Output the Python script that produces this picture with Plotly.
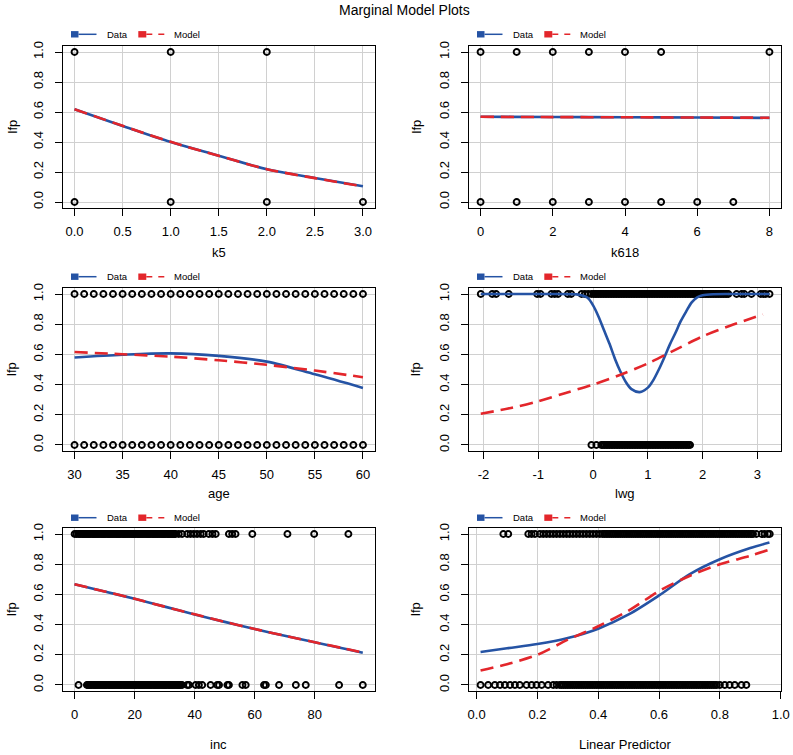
import plotly.graph_objects as go

W, H = 793, 755

# ---------------- data ----------------
k5_lfp1 = [0, 1, 2]
k5_lfp0 = [0, 1, 2, 3]
k5_curve_x = [0, 0.5, 1, 1.5, 2, 2.5, 3]
k5_data_y = [0.618, 0.507, 0.400, 0.309, 0.218, 0.160, 0.105]
k5_model_y = [0.618, 0.508, 0.401, 0.308, 0.219, 0.159, 0.104]

k618_lfp1 = [0, 1, 2, 3, 4, 5, 8]
k618_lfp0 = [0, 1, 2, 3, 4, 5, 6, 7]
k618_curve_x = [0, 2, 4, 6, 8]
k618_data_y = [0.568, 0.567, 0.565, 0.563, 0.561]
k618_model_y = [0.568, 0.566, 0.565, 0.563, 0.562]

age_lfp1 = [30, 31, 32, 33, 34, 35, 36, 37, 38, 39, 40, 41, 42, 43, 44, 45,
            46, 47, 48, 49, 50, 51, 52, 53, 54, 55, 56, 57, 58, 59, 60]
age_lfp0 = [30, 31, 32, 33, 34, 35, 36, 37, 38, 39, 40, 41, 42, 43, 44, 45,
            46, 47, 48, 49, 50, 51, 52, 53, 54, 55, 56, 57, 58, 59, 60]
age_curve_x = [30, 35, 40, 45, 50, 55, 60]
age_data_y = [0.580, 0.598, 0.607, 0.590, 0.552, 0.468, 0.378]
age_model_y = [0.616, 0.601, 0.585, 0.561, 0.531, 0.493, 0.449]

lwg_lfp1 = [-2.05, -1.84, -1.77, -1.54, -1.02, -0.96, -0.76, -0.70, -0.64, -0.46,
            -0.40, -0.21, -0.15, -0.09, -0.03, 0.01, 0.04, 0.07, 0.10, 0.13, 0.16, 0.19,
            0.22, 0.25, 0.28, 0.31, 0.34, 0.37, 0.40, 0.43, 0.46, 0.49, 0.52, 0.55, 0.58,
            0.61, 0.64, 0.67, 0.70, 0.73, 0.76, 0.79, 0.82, 0.85, 0.88, 0.91, 0.94, 0.97,
            1.00, 1.03, 1.06, 1.09, 1.12, 1.15, 1.18, 1.21, 1.24, 1.27, 1.30, 1.33, 1.36,
            1.39, 1.42, 1.45, 1.48, 1.51, 1.54, 1.57, 1.60, 1.63, 1.66, 1.69, 1.72, 1.75,
            1.78, 1.81, 1.84, 1.87, 1.90, 1.93, 1.96, 1.99, 2.02, 2.05, 2.08, 2.11, 2.14,
            2.17, 2.20, 2.23, 2.26, 2.29, 2.32, 2.35, 2.38, 2.41, 2.44, 2.47, 2.62, 2.71,
            2.76, 2.89, 3.06, 3.11, 3.15, 3.22]
lwg_lfp0 = [-0.03, 0.06, 0.15, 0.18, 0.21, 0.24, 0.27, 0.30, 0.33, 0.36, 0.39, 0.42, 0.45,
            0.48, 0.51, 0.54, 0.57, 0.60, 0.63, 0.66, 0.69, 0.72, 0.75, 0.78, 0.81, 0.84,
            0.87, 0.90, 0.93, 0.96, 0.99, 1.02, 1.05, 1.08, 1.11, 1.14, 1.17, 1.20, 1.23,
            1.26, 1.29, 1.32, 1.35, 1.38, 1.41, 1.44, 1.47, 1.50, 1.53, 1.56, 1.59, 1.62,
            1.65, 1.68, 1.71, 1.74, 1.77]
lwg_curve_x = [-2.05, -1.0, -0.3, -0.2, -0.1, 0.0, 0.1, 0.2, 0.3, 0.4, 0.5, 0.6, 0.7,
               0.85, 1.0, 1.1, 1.2, 1.3, 1.4, 1.5, 1.6, 1.7, 1.8, 1.9, 2.0, 2.2, 2.6, 3.22]
lwg_data_y = [1.0, 1.0, 0.998, 0.99, 0.975, 0.925, 0.85, 0.76, 0.67, 0.57, 0.485, 0.415,
              0.37, 0.35, 0.38, 0.43, 0.50, 0.58, 0.665, 0.74, 0.82, 0.885, 0.945, 0.978,
              0.992, 0.999, 1.0, 1.0]
lwg_model_x = [-2.05, -1.5, -1.0, -0.5, 0.0, 0.5, 1.0, 1.5, 2.0, 2.5, 3.1]
lwg_model_y = [0.207, 0.245, 0.290, 0.345, 0.400, 0.465, 0.540, 0.630, 0.720, 0.790, 0.865]

inc_lfp1 = [0.0, 0.6, 1.2, 1.7, 2.1, 2.6, 3.0, 3.4, 3.8, 4.2, 4.6, 5.0, 5.4, 5.9, 6.3,
            6.7, 7.1, 7.5, 7.9, 8.4, 8.8, 9.2, 9.6, 10.0, 10.4, 10.9, 11.3, 11.7, 12.1,
            12.5, 12.9, 13.4, 13.8, 14.2, 14.6, 15.0, 15.4, 15.9, 16.3, 16.7, 17.1, 17.5,
            17.9, 18.4, 18.8, 19.2, 19.6, 20.0, 20.4, 20.9, 21.3, 21.7, 22.1, 22.5, 22.9,
            23.4, 23.8, 24.2, 24.6, 25.0, 25.4, 25.9, 26.3, 26.7, 27.1, 27.5, 27.9, 28.4,
            28.8, 29.2, 29.6, 30.0, 30.4, 30.9, 31.3, 31.7, 32.1, 32.5, 32.9, 33.3, 33.6,
            34.7, 35.8, 37.5, 38.6, 39.7, 40.8, 42.0, 43.0, 44.7, 45.9, 47.0, 51.4, 52.5,
            53.6, 59.2, 70.9, 79.8, 91.2]
inc_lfp0 = [1.3, 4.1, 4.5, 4.9, 5.3, 5.7, 6.2, 6.6, 7.0, 7.4, 7.8, 8.2, 8.7, 9.1, 9.5,
            9.9, 10.3, 10.7, 11.2, 11.6, 12.0, 12.4, 12.8, 13.2, 13.7, 14.1, 14.5, 14.9,
            15.3, 15.7, 16.2, 16.6, 17.0, 17.4, 17.8, 18.2, 18.7, 19.1, 19.5, 19.9, 20.3,
            20.7, 21.2, 21.6, 22.0, 22.4, 22.8, 23.2, 23.7, 24.1, 24.5, 24.9, 25.3, 25.7,
            26.2, 26.6, 27.0, 27.4, 27.8, 28.2, 28.7, 29.1, 29.5, 29.9, 30.3, 30.7, 31.2,
            31.6, 32.0, 32.4, 32.8, 33.2, 33.7, 34.1, 34.5, 34.9, 35.3, 35.8, 37.5, 38.1,
            40.3, 41.4, 42.5, 45.3, 47.5, 48.1, 50.9, 51.4, 55.9, 57.0, 63.1, 63.7, 68.1,
            73.7, 77.0, 88.1, 96.0]
inc_curve_x = [-0.03, 10, 20, 30, 40, 50, 60, 70, 80, 90, 96]
inc_data_y = [0.667, 0.619, 0.571, 0.519, 0.467, 0.418, 0.371, 0.326, 0.283, 0.240, 0.214]
inc_model_y = [0.667, 0.620, 0.571, 0.519, 0.468, 0.418, 0.371, 0.326, 0.283, 0.241, 0.214]

fit_lfp1 = [0.088, 0.104, 0.170, 0.181, 0.192, 0.208, 0.219, 0.230, 0.241, 0.252, 0.263,
            0.274, 0.285, 0.296, 0.306, 0.317, 0.328, 0.339, 0.350, 0.361, 0.372, 0.383,
            0.394, 0.405, 0.414, 0.420, 0.426, 0.432, 0.438, 0.444, 0.450, 0.456, 0.462,
            0.468, 0.474, 0.480, 0.486, 0.492, 0.498, 0.504, 0.510, 0.516, 0.522, 0.528,
            0.534, 0.540, 0.546, 0.552, 0.558, 0.564, 0.570, 0.576, 0.582, 0.588, 0.594,
            0.600, 0.606, 0.612, 0.618, 0.624, 0.630, 0.636, 0.642, 0.648, 0.654, 0.660,
            0.666, 0.672, 0.678, 0.684, 0.690, 0.696, 0.702, 0.708, 0.714, 0.720, 0.726,
            0.732, 0.738, 0.744, 0.750, 0.756, 0.762, 0.768, 0.774, 0.780, 0.786, 0.792,
            0.798, 0.804, 0.810, 0.816, 0.822, 0.828, 0.834, 0.840, 0.846, 0.852, 0.858,
            0.864, 0.870, 0.876, 0.882, 0.888, 0.894, 0.900, 0.905, 0.909, 0.920, 0.937,
            0.947, 0.958, 0.964]
fit_lfp0 = [0.013, 0.038, 0.060, 0.077, 0.093, 0.110, 0.126, 0.142, 0.164, 0.181, 0.197,
            0.214, 0.235, 0.252, 0.263, 0.274, 0.280, 0.286, 0.292, 0.298, 0.304, 0.310,
            0.316, 0.322, 0.328, 0.334, 0.340, 0.346, 0.352, 0.358, 0.364, 0.370, 0.376,
            0.382, 0.388, 0.394, 0.400, 0.406, 0.412, 0.418, 0.424, 0.430, 0.436, 0.442,
            0.448, 0.454, 0.460, 0.466, 0.472, 0.478, 0.484, 0.490, 0.496, 0.502, 0.508,
            0.514, 0.520, 0.526, 0.532, 0.538, 0.544, 0.550, 0.556, 0.562, 0.568, 0.574,
            0.580, 0.586, 0.592, 0.598, 0.604, 0.610, 0.616, 0.622, 0.628, 0.634, 0.640,
            0.646, 0.652, 0.658, 0.664, 0.670, 0.676, 0.682, 0.688, 0.694, 0.700, 0.706,
            0.712, 0.718, 0.724, 0.730, 0.736, 0.742, 0.748, 0.754, 0.760, 0.766, 0.772,
            0.778, 0.784, 0.790, 0.800, 0.816, 0.832, 0.849, 0.871, 0.887]
fit_curve_x = [0.013, 0.1, 0.2, 0.3, 0.4, 0.5, 0.6, 0.7, 0.8, 0.9, 0.963]
fit_data_y = [0.218, 0.243, 0.271, 0.311, 0.373, 0.467, 0.593, 0.733, 0.833, 0.907, 0.944]
fit_model_y = [0.096, 0.138, 0.200, 0.300, 0.389, 0.493, 0.622, 0.722, 0.800, 0.856, 0.896]

y_ticks = [0, 0.2, 0.4, 0.6, 0.8, 1.0]
y_ticktext = ["0.0", "0.2", "0.4", "0.6", "0.8", "1.0"]

panels = [
    dict(xlab="k5", p1=k5_lfp1, p0=k5_lfp0, dx=k5_curve_x, dy=k5_data_y, mx=k5_curve_x, my=k5_model_y,
         xr=[-0.12, 3.12], xt=[0, 0.5, 1, 1.5, 2, 2.5, 3],
         xtt=["0.0", "0.5", "1.0", "1.5", "2.0", "2.5", "3.0"]),
    dict(xlab="k618", p1=k618_lfp1, p0=k618_lfp0, dx=k618_curve_x, dy=k618_data_y, mx=k618_curve_x, my=k618_model_y,
         xr=[-0.32, 8.32], xt=[0, 2, 4, 6, 8], xtt=["0", "2", "4", "6", "8"]),
    dict(xlab="age", p1=age_lfp1, p0=age_lfp0, dx=age_curve_x, dy=age_data_y, mx=age_curve_x, my=age_model_y,
         xr=[28.8, 61.2], xt=[30, 35, 40, 45, 50, 55, 60], xtt=["30", "35", "40", "45", "50", "55", "60"]),
    dict(xlab="lwg", p1=lwg_lfp1, p0=lwg_lfp0, dx=lwg_curve_x, dy=lwg_data_y, mx=lwg_model_x, my=lwg_model_y,
         xr=[-2.265, 3.43], xt=[-2, -1, 0, 1, 2, 3], xtt=["-2", "-1", "0", "1", "2", "3"]),
    dict(xlab="inc", p1=inc_lfp1, p0=inc_lfp0, dx=inc_curve_x, dy=inc_data_y, mx=inc_curve_x, my=inc_model_y,
         xr=[-3.87, 99.9], xt=[0, 20, 40, 60, 80], xtt=["0", "20", "40", "60", "80"]),
    dict(xlab="Linear Predictor", p1=fit_lfp1, p0=fit_lfp0, dx=fit_curve_x, dy=fit_data_y, mx=fit_curve_x, my=fit_model_y,
         xr=[-0.025, 1.001], xt=[0, 0.2, 0.4, 0.6, 0.8, 1.0],
         xtt=["0.0", "0.2", "0.4", "0.6", "0.8", "1.0"]),
]

# ---------------- layout geometry (pixels) ----------------
col_x = [(63, 374.5), (469, 781)]
row_y = [(46, 208), (288, 451), (528, 691)]
xlab_y = [252, 493, 744]
legend_y = [34.3, 276.7, 517.7]
ylab_x = [11.5, 415.5]

BLUE = "#2553a4"
RED = "#e3262b"
FONT = "Liberation Sans, Arial, sans-serif"


def px(x):
    return x / W


def py(y):
    return 1 - y / H


fig = go.Figure()
layout = dict(
    width=W, height=H, margin=dict(l=0, r=0, t=0, b=0),
    paper_bgcolor="white", plot_bgcolor="white", showlegend=False,
    font=dict(family=FONT, size=13, color="black"),
)
annotations = []
shapes = []
marker_style = dict(symbol="circle-open", size=6.0, color="black", line=dict(width=1.9, color="black"))

for i, p in enumerate(panels):
    r, c = divmod(i, 2)
    n = i + 1
    xa, ya = f"x{n}", f"y{n}"
    fig.add_trace(go.Scatter(x=p["p1"], y=[1] * len(p["p1"]), mode="markers", xaxis=xa, yaxis=ya,
                             marker=marker_style, hoverinfo="skip"))
    fig.add_trace(go.Scatter(x=p["p0"], y=[0] * len(p["p0"]), mode="markers", xaxis=xa, yaxis=ya,
                             marker=marker_style, hoverinfo="skip"))
    fig.add_trace(go.Scatter(x=p["dx"], y=p["dy"], mode="lines", xaxis=xa, yaxis=ya, hoverinfo="skip",
                             line=dict(color=BLUE, width=2.6, shape="spline", smoothing=0.9)))
    fig.add_trace(go.Scatter(x=p["mx"], y=p["my"], mode="lines", xaxis=xa, yaxis=ya, hoverinfo="skip",
                             line=dict(color=RED, width=2.6, dash="13px,7px", shape="spline", smoothing=0.9)))

    x0, x1 = col_x[c]
    y0, y1 = row_y[r]
    common = dict(showgrid=True, gridcolor="#d0d0d0", gridwidth=1, zeroline=False,
                  showline=True, mirror=True, linecolor="black", linewidth=1.4,
                  ticks="outside", ticklen=7, tickwidth=1, tickcolor="black",
                  tickfont=dict(family=FONT, size=13, color="black"), automargin=False)
    layout[f"xaxis{n}"] = dict(domain=[px(x0), px(x1)], range=p["xr"], anchor=ya,
                               tickmode="array", tickvals=p["xt"], ticktext=p["xtt"],
                               ticklabelstandoff=4, **common)
    layout[f"yaxis{n}"] = dict(domain=[py(y1), py(y0)], range=[-0.04, 1.04], anchor=xa,
                               tickmode="array", tickvals=y_ticks, ticktext=y_ticktext,
                               tickangle=-90, ticklabelstandoff=6, **common)

    # axis titles
    annotations.append(dict(text=p["xlab"], xref="paper", yref="paper", x=px((x0 + x1) / 2),
                            y=py(xlab_y[r]), xanchor="center", yanchor="middle", showarrow=False,
                            font=dict(family=FONT, size=13)))
    annotations.append(dict(text="lfp", xref="paper", yref="paper", x=px(ylab_x[c]),
                            y=py((y0 + y1) / 2), xanchor="center", yanchor="middle", showarrow=False,
                            textangle=-90, font=dict(family=FONT, size=13)))

    # legend
    off = x0 - 63
    ly = legend_y[r]
    shapes.append(dict(type="rect", xref="paper", yref="paper", x0=px(71 + off), x1=px(78.5 + off),
                       y0=py(ly + 3.2), y1=py(ly - 3.2), fillcolor=BLUE, line=dict(width=0)))
    shapes.append(dict(type="line", xref="paper", yref="paper", x0=px(78.5 + off), x1=px(96.5 + off),
                       y0=py(ly), y1=py(ly), line=dict(color=BLUE, width=1.5)))
    annotations.append(dict(text="Data", xref="paper", yref="paper", x=px(104.5 + off), y=py(ly),
                            xanchor="left", yanchor="middle", showarrow=False,
                            font=dict(family=FONT, size=9.5)))
    shapes.append(dict(type="rect", xref="paper", yref="paper", x0=px(138.3 + off), x1=px(146.3 + off),
                       y0=py(ly + 3.2), y1=py(ly - 3.2), fillcolor=RED, line=dict(width=0)))
    shapes.append(dict(type="line", xref="paper", yref="paper", x0=px(146.3 + off), x1=px(165 + off),
                       y0=py(ly), y1=py(ly), line=dict(color=RED, width=1.5, dash="6px,6px")))
    annotations.append(dict(text="Model", xref="paper", yref="paper", x=px(171.5 + off), y=py(ly),
                            xanchor="left", yanchor="middle", showarrow=False,
                            font=dict(family=FONT, size=9.5)))

annotations.append(dict(text="Marginal Model Plots", xref="paper", yref="paper", x=px(404), y=py(9.5),
                        xanchor="center", yanchor="middle", showarrow=False,
                        font=dict(family=FONT, size=14)))

layout["annotations"] = annotations
layout["shapes"] = shapes
fig.update_layout(**layout)
fig.write_html("out.html", config={"displayModeBar": False, "staticPlot": True},
               post_script="document.body.style.margin='0';document.body.style.overflow='hidden';")
